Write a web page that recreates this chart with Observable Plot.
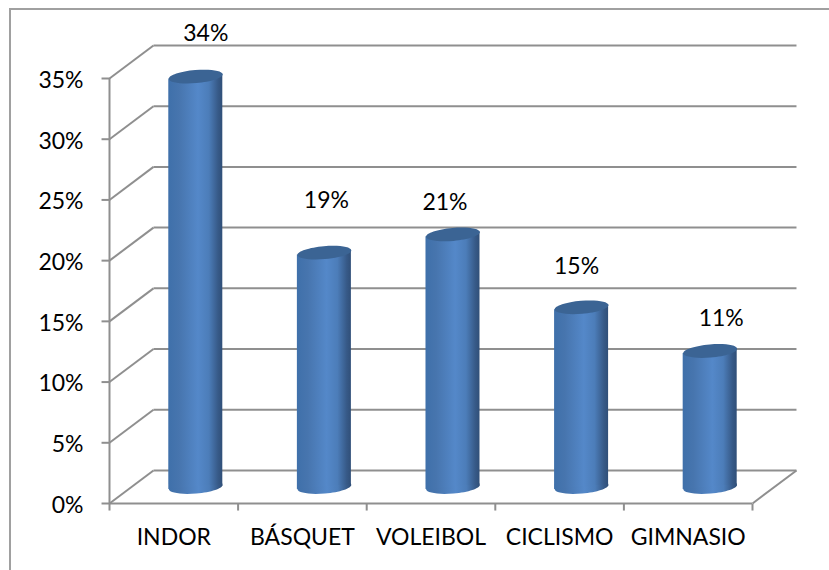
<!DOCTYPE html>
<html>
<head>
<meta charset="utf-8">
<script src="https://cdn.jsdelivr.net/npm/d3@7"></script>
<script src="https://cdn.jsdelivr.net/npm/@observablehq/plot@0.6"></script>
<style>
  html, body { margin: 0; padding: 0; background: #fff; overflow: hidden; }
  #wrap { position: relative; width: 829px; height: 570px; }
  #border { position: absolute; left: 9px; top: 8px; width: 820px; height: 562px;
            border-left: 2px solid #a0a0a0; border-top: 2px solid #a0a0a0; box-sizing: border-box; }
  #wrap svg { position: absolute; left: 0; top: 0; }
</style>
</head>
<body>
<div id="wrap"><div id="border"></div></div>
<script>
const categories = ["INDOR", "BÁSQUET", "VOLEIBOL", "CICLISMO", "GIMNASIO"];
const percents = [33.8, 19.3, 20.8, 14.8, 11.2];
const yTicks = [0, 5, 10, 15, 20, 25, 30, 35];

// Perspective of the chart's box, in data units
const depthX = 0.342, depthY = 2.72;
const barCenter = 0.5 + depthX / 2, barHalf = 0.21, tilt = 0.2;
const tickX = 0.062, tickY = 0.58;
const grey = "#8f8f8f";
const font = "Lato, Carlito, sans-serif", fs = 23;

// Hand-placed label offsets of the original, in pixels from the bar top
const labelDx = [10, 2, -8, -5, 11];
const labelDy = [-43, -52, -32, -41, -32];

const idx = categories.map((_, i) => i);
const bars = categories.flatMap((name, i) => [-1, 1].map(s => ({
  name,
  x: i + barCenter + s * barHalf,
  y1: depthY / 2 + s * tilt,
  y2: percents[i] + depthY / 2 + s * tilt
})));

const ellipse = {
  draw(ctx) {
    const rx = 27, ry = 6.5, a = -5 * Math.PI / 180, k = 0.5523;
    const p = (x, y) => [x * Math.cos(a) - y * Math.sin(a), x * Math.sin(a) + y * Math.cos(a)];
    const seg = (c1, c2, e) => ctx.bezierCurveTo(...p(...c1), ...p(...c2), ...p(...e));
    ctx.moveTo(...p(rx, 0));
    seg([rx, k * ry], [k * rx, ry], [0, ry]);
    seg([-k * rx, ry], [-rx, k * ry], [-rx, 0]);
    seg([-rx, -k * ry], [-k * rx, -ry], [0, -ry]);
    seg([k * rx, -ry], [rx, -k * ry], [rx, 0]);
    ctx.closePath();
  }
};

const chart = Plot.plot({
  width: 829, height: 570,
  marginLeft: 109, marginRight: 77, marginTop: 78, marginBottom: 67,
  style: { fontFamily: font, fontSize: fs + "px", color: "#000", background: "transparent" },
  x: { domain: [0, categories.length], axis: null },
  y: { domain: [0, 35], axis: null },
  marks: [
    // back wall gridlines
    Plot.link(yTicks, { x1: depthX, x2: categories.length + depthX, y1: d => d + depthY, y2: d => d + depthY, stroke: grey, strokeWidth: 2 }),
    // side wall gridlines
    Plot.link(yTicks, { x1: 0, x2: depthX, y1: d => d, y2: d => d + depthY, stroke: grey, strokeWidth: 2 }),
    // floor
    Plot.link([0], { x1: categories.length, x2: categories.length + depthX, y1: 0, y2: depthY, stroke: grey, strokeWidth: 2 }),
    Plot.ruleX([0], { y1: 0, y2: 35, stroke: grey, strokeWidth: 2 }),
    Plot.ruleY([0], { x1: 0, x2: categories.length, stroke: grey, strokeWidth: 2 }),
    // tick marks
    Plot.link(yTicks, { x1: -tickX, x2: 0, y1: d => d, y2: d => d, stroke: grey, strokeWidth: 2 }),
    Plot.link(d3.range(categories.length + 1), { x1: d => d, x2: d => d, y1: 0, y2: -tickY, stroke: grey, strokeWidth: 2 }),
    // axis labels
    Plot.axisY({ ticks: yTicks, tickSize: 0, tickPadding: 26, dy: 2, tickFormat: d => d + "%", label: null, fontSize: fs, fill: "#000" }),
    Plot.axisX({ ticks: idx.map(i => i + 0.5), tickSize: 0, tickPadding: 25, tickFormat: d => categories[Math.floor(d)], label: null, fontSize: fs, fill: "#000" }),
    // cylinders
    Plot.dot(idx, { x: i => i + barCenter, y: depthY / 2, symbol: ellipse, r: 10, fill: "url(#cylinder)" }),
    Plot.areaY(bars, { x: "x", y1: "y1", y2: "y2", z: "name", fill: "url(#cylinder)", curve: "linear" }),
    Plot.dot(idx, { x: i => i + barCenter, y: i => percents[i] + depthY / 2, symbol: ellipse, r: 10, fill: "#3b6494" }),
    // value labels
    Plot.text(idx, {
      x: i => i + barCenter, y: i => percents[i] + depthY / 2,
      text: i => Math.round(percents[i]) + "%",
      fontSize: fs, fill: "#000",
      render(index, scales, values, dims, ctx, next) {
        const g = next(index, scales, values, dims, ctx);
        d3.select(g).selectAll("text").attr("transform", function (_, j) {
          const i = index[j];
          return `translate(${values.x[i] + labelDx[i]},${values.y[i] + labelDy[i]})`;
        });
        return g;
      }
    })
  ]
});

const defs = d3.select(chart).insert("defs", ":first-child");
const grad = defs.append("linearGradient").attr("id", "cylinder").attr("x1", 0).attr("x2", 1).attr("y1", 0).attr("y2", 0);
[[0, "#3f70aa"], [0.2, "#4775ae"], [0.55, "#5488c9"], [0.75, "#4c7db9"], [0.92, "#375a88"], [1, "#304f78"]]
  .forEach(([o, c]) => grad.append("stop").attr("offset", o).attr("stop-color", c));

document.getElementById("wrap").appendChild(chart);
</script>
</body>
</html>
